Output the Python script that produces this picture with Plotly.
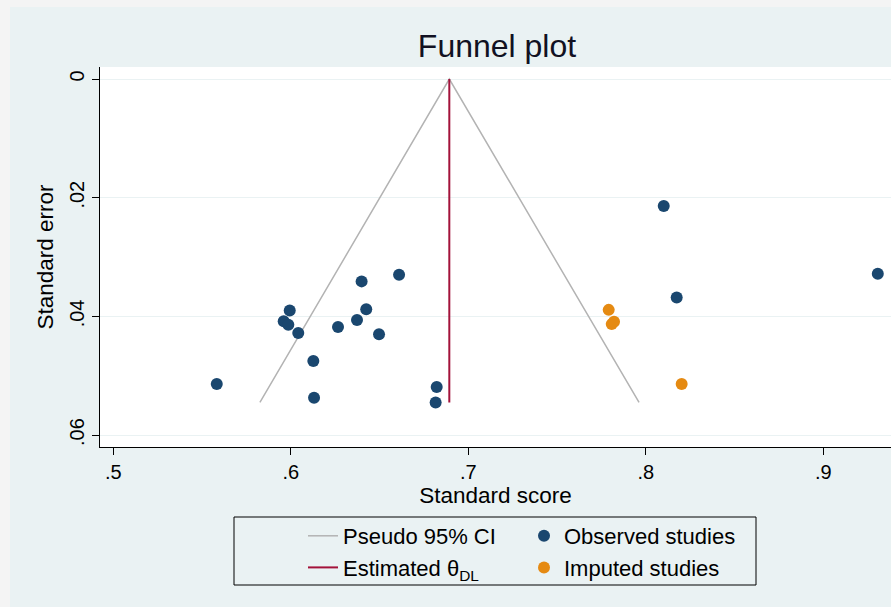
import plotly.graph_objects as go

# ---- data ----
obs_x = [0.6399, 0.6610, 0.5994, 0.5960, 0.5986, 0.6042, 0.6266, 0.6373, 0.6425,
         0.6497, 0.6127, 0.5583, 0.6131, 0.6822, 0.6816, 0.8101, 0.9307, 0.8174]
obs_se = [0.0341, 0.0330, 0.0390, 0.0408, 0.0414, 0.0428, 0.0418, 0.0406, 0.0388,
          0.0430, 0.0475, 0.0514, 0.0537, 0.0519, 0.0545, 0.0214, 0.0328, 0.0368]
imp_x = [0.7791, 0.7808, 0.7821, 0.8202]
imp_se = [0.0389, 0.0413, 0.0409, 0.0514]
ci_x = [0.5826, 0.6893, 0.7962]
ci_se = [0.0545, 0.0, 0.0545]
theta_x = [0.6893, 0.6893]
theta_se = [0.0, 0.0545]

x_tickvals = [0.5, 0.6, 0.7, 0.8, 0.9]
x_ticktext = [".5", ".6", ".7", ".8", ".9"]
y_tickvals = [0.0, 0.02, 0.04, 0.06]
y_ticktext = ["0", ".02", ".04", ".06"]

FONT = "Arial, Liberation Sans, sans-serif"
BG = "#eaf2f3"

fig = go.Figure()
fig.add_trace(go.Scatter(x=ci_x, y=ci_se, mode="lines", name="Pseudo 95% CI",
                         line=dict(color="#b3b3b3", width=1.5), legend="legend"))
fig.add_trace(go.Scatter(x=theta_x, y=theta_se, mode="lines", name="Estimated θ<sub>DL</sub>",
                         line=dict(color="#a3123a", width=2), legend="legend"))
fig.add_trace(go.Scatter(x=obs_x, y=obs_se, mode="markers", name="Observed studies",
                         marker=dict(color="#1a476f", size=12, line=dict(width=0)),
                         legend="legend2"))
fig.add_trace(go.Scatter(x=imp_x, y=imp_se, mode="markers", name="Imputed studies",
                         marker=dict(color="#e58a12", size=12, line=dict(width=0)),
                         legend="legend2"))

W, H = 891, 607
L, R, T, B = 100, 0, 67, 160
pw, ph = W - L - R, H - T - B


def px(xp):
    return (xp - L) / pw


def py(yp):
    return (H - B - yp) / ph


shapes = [
    # thin grey strips at the left and top of the picture
    dict(type="rect", xref="paper", yref="paper", x0=px(0), x1=px(10), y0=py(H), y1=py(0),
         fillcolor="#f4f4f4", line=dict(width=0), layer="below"),
    dict(type="rect", xref="paper", yref="paper", x0=px(0), x1=px(W), y0=py(7), y1=py(0),
         fillcolor="#f4f4f4", line=dict(width=0), layer="below"),
    # legend frame
    dict(type="rect", xref="paper", yref="paper", x0=px(234), x1=px(756), y0=py(585), y1=py(517),
         fillcolor="rgba(0,0,0,0)", line=dict(color="black", width=1)),
]

fig.update_layout(
    width=W, height=H,
    margin=dict(l=L, r=R, t=T, b=B),
    paper_bgcolor=BG,
    plot_bgcolor="white",
    font=dict(family=FONT, color="black"),
    title=dict(text="Funnel plot", x=497 / W, xref="container", xanchor="center",
               y=1 - 46 / H, yref="container", yanchor="middle",
               font=dict(size=32, color="#111122", family=FONT)),
    xaxis=dict(range=[0.5 - 13.3 / 1775, 0.5 + 777.7 / 1775], tickvals=x_tickvals, ticktext=x_ticktext,
               showgrid=False, zeroline=False, showline=True, linecolor="black", linewidth=1,
               ticks="outside", ticklen=7, tickcolor="black", tickfont=dict(size=20),
               title=dict(text="Standard score", font=dict(size=22.5), standoff=3)),
    yaxis=dict(range=[(447 - 79) / 5935, (67 - 79) / 5935], tickvals=y_tickvals, ticktext=y_ticktext,
               showgrid=True, gridcolor=BG, gridwidth=1, zeroline=False,
               showline=True, linecolor="black", linewidth=1,
               ticks="outside", ticklen=7, tickcolor="black", tickangle=-90, tickfont=dict(size=20),
               title=dict(text="Standard error", font=dict(size=22.5), standoff=6)),
    legend=dict(x=px(303), xanchor="left", y=py(552), yanchor="middle",
                bgcolor="rgba(0,0,0,0)", borderwidth=0, font=dict(size=22, family=FONT),
                tracegroupgap=0),
    legend2=dict(x=px(524), xanchor="left", y=py(552), yanchor="middle",
                 bgcolor="rgba(0,0,0,0)", borderwidth=0, font=dict(size=22, family=FONT),
                 tracegroupgap=0),
    shapes=shapes,
    showlegend=True,
)

fig.write_html("out.html", config={"displayModeBar": False},
               post_script="document.body.style.margin='0px';")
